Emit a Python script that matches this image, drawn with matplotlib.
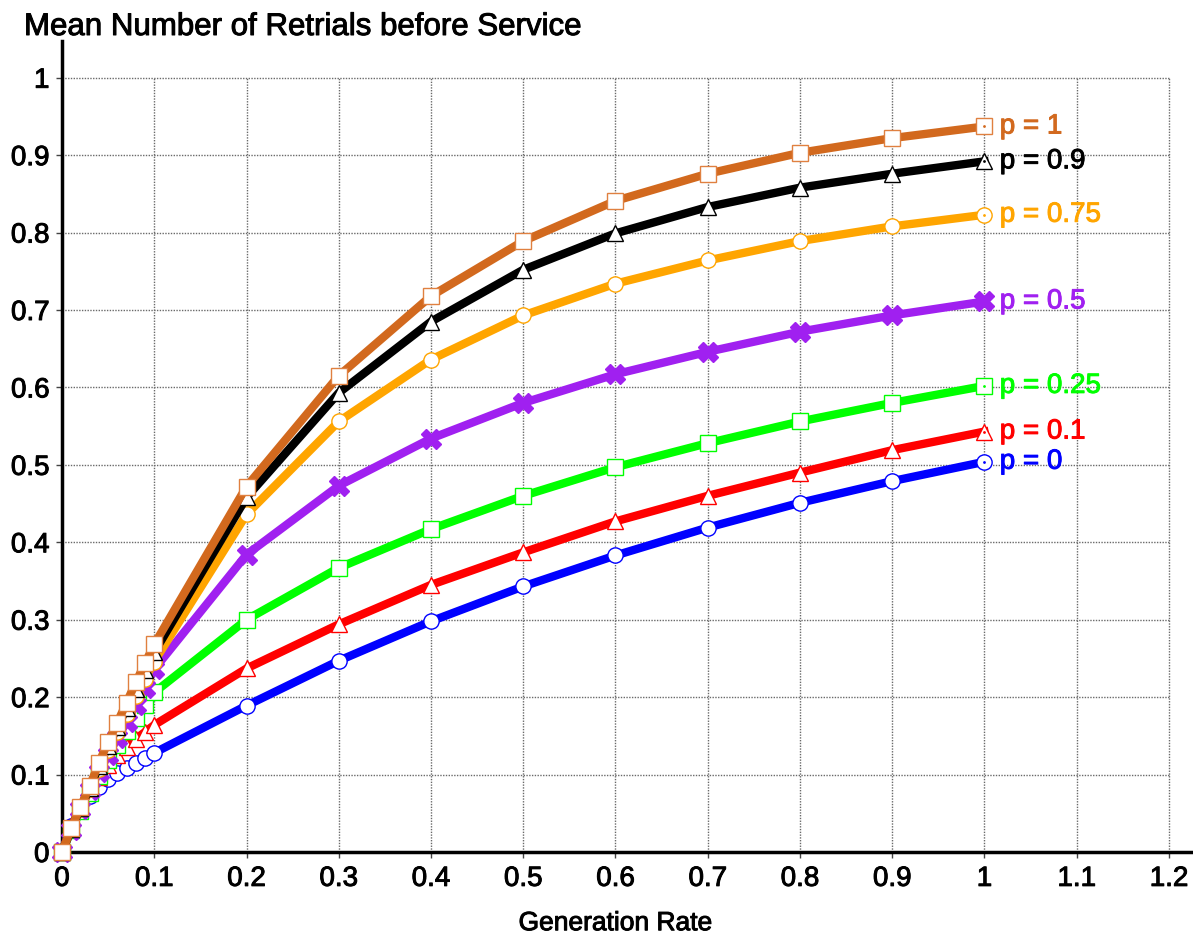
import numpy as np
import matplotlib
matplotlib.use("Agg")
import matplotlib.pyplot as plt
import matplotlib.patheffects as pe

plt.rcParams['font.family'] = ['Liberation Sans', 'DejaVu Sans']

# Generation rates: fine steps up to 0.1, then coarse steps up to 1
rates = [0.0, 0.01, 0.02, 0.03, 0.04, 0.05, 0.06, 0.07, 0.08, 0.09, 0.1,
         0.2, 0.3, 0.4, 0.5, 0.6, 0.7, 0.8, 0.9, 1.0]

retrials_p0 = [0.0, 0.033, 0.055, 0.072, 0.084, 0.094, 0.102, 0.109, 0.115, 0.121, 0.128,
               0.189, 0.247, 0.298, 0.343, 0.383, 0.419, 0.451, 0.479, 0.504]
retrials_p01 = [0.0, 0.032, 0.058, 0.079, 0.097, 0.112, 0.125, 0.136, 0.146, 0.155, 0.164,
                0.237, 0.294, 0.345, 0.387, 0.427, 0.460, 0.490, 0.519, 0.543]
retrials_p025 = [0.0, 0.028, 0.053, 0.076, 0.098, 0.119, 0.138, 0.156, 0.173, 0.190, 0.206,
                 0.300, 0.367, 0.417, 0.460, 0.497, 0.528, 0.556, 0.580, 0.602]
retrials_p05 = [0.0, 0.029, 0.056, 0.080, 0.103, 0.125, 0.147, 0.168, 0.190, 0.212, 0.236,
                0.384, 0.473, 0.534, 0.580, 0.617, 0.646, 0.672, 0.693, 0.711]
retrials_p075 = [0.0, 0.030, 0.056, 0.081, 0.107, 0.132, 0.155, 0.178, 0.202, 0.224, 0.246,
                 0.436, 0.556, 0.636, 0.693, 0.734, 0.764, 0.789, 0.808, 0.823]
retrials_p09 = [0.0, 0.030, 0.057, 0.083, 0.111, 0.137, 0.161, 0.186, 0.211, 0.235, 0.258,
                0.458, 0.593, 0.685, 0.752, 0.799, 0.833, 0.858, 0.876, 0.892]
retrials_p1 = [0.0, 0.031, 0.058, 0.085, 0.115, 0.142, 0.167, 0.193, 0.219, 0.244, 0.268,
               0.472, 0.615, 0.718, 0.789, 0.841, 0.876, 0.903, 0.922, 0.937]

series_labels = ["p = 0", "p = 0.1", "p = 0.25", "p = 0.5", "p = 0.75", "p = 0.9", "p = 1"]
series_values = [retrials_p0, retrials_p01, retrials_p025, retrials_p05,
                 retrials_p075, retrials_p09, retrials_p1]

x_ticks = [0, 0.1, 0.2, 0.3, 0.4, 0.5, 0.6, 0.7, 0.8, 0.9, 1, 1.1, 1.2]
x_tick_labels = ["0", "0.1", "0.2", "0.3", "0.4", "0.5", "0.6", "0.7", "0.8", "0.9", "1", "1.1", "1.2"]
y_ticks = [0, 0.1, 0.2, 0.3, 0.4, 0.5, 0.6, 0.7, 0.8, 0.9, 1]
y_tick_labels = ["0", "0.1", "0.2", "0.3", "0.4", "0.5", "0.6", "0.7", "0.8", "0.9", "1"]

# line colour, marker, marker edge colour, marker size
styles = [
    ("#0000FF", "o", "#0000FF", 11),
    ("#FF0000", "^", "#FF0000", 11),
    ("#00FF00", "s", "#00FF00", 11),
    ("#A020F0", "X", "#A020F0", 14),
    ("#FFA500", "o", "#FFA500", 11),
    ("#000000", "^", "#000000", 11),
    ("#D2691E", "s", "#E08040", 11),
]

W, H = 1193, 941
fig = plt.figure(figsize=(W / 100, H / 100), dpi=100)
ax_left, ax_bottom, ax_top = 62, 852, 41
ax = fig.add_axes([ax_left / W, 1 - ax_bottom / H, (W - ax_left) / W, (ax_bottom - ax_top) / H])

x_px_per_unit = (1169 - 62) / 1.2
y_px_per_unit = (852 - 77.7) / 1.0
ax.set_xlim(0, (W - ax_left) / x_px_per_unit)
ax.set_ylim(0, (ax_bottom - ax_top) / y_px_per_unit)

# dotted grid only inside the 0..1.2 x 0..1 region
grid_kw = dict(color="#6a6a6a", linestyle=(0, (1, 1)), linewidth=1.0, zorder=1)
ax.hlines(y_ticks[1:], 0, 1.2, **grid_kw)
ax.vlines(x_ticks[1:], 0, 1.0, **grid_kw)

# slightly heavier text strokes
def heavy(color):
    return [pe.withStroke(linewidth=0.7, foreground=color)]

for label, values, (color, marker, edge, ms) in zip(series_labels, series_values, styles):
    face = color if marker == "X" else "white"
    ax.plot(rates, values, color=color, linewidth=6, marker=marker, markersize=ms,
            markerfacecolor=face, markeredgecolor=edge, markeredgewidth=1.0,
            clip_on=False, zorder=3, solid_joinstyle="round")
    if marker != "X":
        ax.plot(rates[-1], values[-1], marker="o", markersize=2, color=color,
                markeredgewidth=0, clip_on=False, zorder=4)
    ax.annotate(label, xy=(rates[-1], values[-1]), xytext=(11, 0), textcoords="offset points",
                color=color, fontsize=20, va="center", ha="left", path_effects=heavy(color))

for side in ("top", "right"):
    ax.spines[side].set_visible(False)
for side in ("left", "bottom"):
    ax.spines[side].set_linewidth(2.5)

ax.set_xticks(x_ticks)
ax.set_xticklabels(x_tick_labels)
ax.set_yticks(y_ticks)
ax.set_yticklabels(y_tick_labels)
ax.tick_params(direction="out", length=4, width=1, colors="#444444", labelcolor="black",
               labelsize=20)
ax.tick_params(axis="x", pad=6)
ax.tick_params(axis="y", pad=5)
for lbl in ax.get_xticklabels() + ax.get_yticklabels():
    lbl.set_path_effects(heavy("black"))

ax.text(0.6, -0.073, "Generation Rate", transform=ax.get_xaxis_transform(),
        ha="center", va="top", fontsize=19, path_effects=heavy("black"))
fig.text(24 / W, 1 - 35 / H, "Mean Number of Retrials before Service",
         ha="left", va="baseline", fontsize=22.5, path_effects=heavy("black"))

fig.savefig("out.png", dpi=100)
